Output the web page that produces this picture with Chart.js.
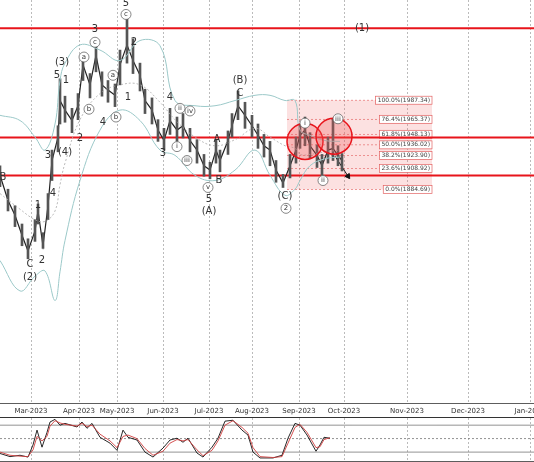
<!DOCTYPE html>
<html>
<head>
<meta charset="utf-8">
<script src="https://cdn.jsdelivr.net/npm/chart.js@4"></script>
<style>
  html, body { margin: 0; padding: 0; overflow: hidden; background: #fff; font-family: "DejaVu Sans", sans-serif; }
  #wrap { position: relative; width: 534px; height: 462px; }
  canvas { position: absolute; left: 0; display: block; }
  #priceChart { top: 0; }
  #oscChart { top: 418px; }
</style>
</head>
<body>
<div id="wrap">
  <canvas id="priceChart" width="534" height="418"></canvas>
  <canvas id="oscChart" width="534" height="44"></canvas>
</div>
<script>
// time axis (bar units) and month ticks
const monthPos = [31, 79, 117, 163, 209, 252, 299, 344, 407, 468, 530];
const monthLabels = ['Mar-2023', 'Apr-2023', 'May-2023', 'Jun-2023', 'Jul-2023', 'Aug-2023',
  'Sep-2023', 'Oct-2023', 'Nov-2023', 'Dec-2023', 'Jan-2024'];

// price samples
const priceT = [0, 8, 15, 22, 28, 35, 38, 43, 48, 52, 58, 60, 65, 72, 78, 83, 90, 96, 102, 108, 115, 120,
  127, 133, 140, 145, 152, 158, 164, 170, 177, 183, 190, 197, 204, 210, 216, 220, 228, 232, 238, 245,
  252, 258, 264, 270, 276, 283, 290, 296, 300, 305, 310, 317, 322, 328, 333, 338, 342];
const closes = [1901, 1872, 1855, 1832, 1814, 1837, 1860, 1820, 1866, 1918, 1945, 1987, 1976, 1964, 1981, 2028,
  2005, 2039, 2005, 1999, 1993, 2028, 2051, 2033, 2016, 1987, 1976, 1953, 1941, 1964, 1953, 1958, 1941, 1930,
  1912, 1907, 1930, 1918, 1941, 1958, 1981, 1970, 1958, 1947, 1935, 1930, 1907, 1892, 1912, 1930, 1947,
  1953, 1935, 1924, 1912, 1930, 1932, 1924, 1918];
const highs = [1912, 1885, 1866, 1845, 1828, 1850, 1868, 1835, 1880, 1930, 1958, 2012, 1992, 1978, 1995, 2040,
  2018, 2052, 2020, 2010, 2006, 2045, 2082, 2058, 2030, 2000, 1990, 1965, 1955, 1978, 1968, 1972, 1955, 1942,
  1925, 1916, 1942, 1930, 1952, 1972, 1998, 1985, 1970, 1960, 1948, 1940, 1918, 1902, 1925, 1945, 1960,
  1968, 1950, 1936, 1925, 1945, 1966, 1935, 1926];
const lows = [1888, 1860, 1842, 1820, 1805, 1825, 1845, 1817, 1850, 1895, 1928, 1960, 1962, 1950, 1965, 2010,
  1990, 2020, 1992, 1985, 1980, 2005, 2030, 2018, 1998, 1972, 1960, 1940, 1930, 1948, 1940, 1944, 1928, 1915,
  1900, 1897, 1915, 1905, 1925, 1945, 1965, 1955, 1945, 1932, 1922, 1912, 1893, 1887, 1898, 1915, 1932,
  1935, 1920, 1910, 1900, 1915, 1918, 1912, 1906];

// bollinger bands
const bandT = [0, 20, 35, 45, 55, 60, 65, 80, 100, 120, 140, 160, 175, 195, 215, 235, 255, 270, 285, 295, 300, 310, 325, 340];
const bandUpper = [1970, 1964, 1945, 1930, 1960, 2010, 2030, 2051, 2045, 2033, 2056, 2050, 1987, 1981, 1981, 1987, 1993, 1993, 1987, 1987, 1953, 1947, 1941, 1940];
const bandLower = [1803, 1768, 1785, 1791, 1757, 1790, 1826, 1895, 1953, 1976, 1964, 1930, 1924, 1901, 1895, 1907, 1930, 1901, 1878, 1885, 1895, 1912, 1920, 1922];
const bandMid = [1880, 1862, 1850, 1848, 1860, 1890, 1915, 1965, 1995, 2005, 2005, 1985, 1965, 1945, 1935, 1942, 1955, 1945, 1935, 1932, 1925, 1925, 1928, 1930];

// horizontal levels and fibonacci box
const redLevels = [2070, 1944.6, 1900.8];
const fibLevels = [1987.34, 1965.37, 1948.13, 1936.02, 1923.90, 1908.92, 1884.69];
const fibNames = ['100.0%(1987.34)', '76.4%(1965.37)', '61.8%(1948.13)', '50.0%(1936.02)',
  '38.2%(1923.90)', '23.6%(1908.92)', '0.0%(1884.69)'];
const fibStart = 287, fibEnd = 432;
const circles = [[305, 1940, 18], [334, 1946, 18]];
const arrowT = [335, 348];
const arrowP = [1923, 1900];

// wave labels: t, price, text, circled
const waveLabels = [
  [3, 1899, 'B', 0], [30, 1798, 'C', 0], [30, 1784, '(2)', 0], [38, 1866, '1', 0], [42, 1803, '2', 0],
  [48, 1924, '3', 0], [53, 1880, '4', 0], [65, 1927, '(4)', 0], [62, 2031, '(3)', 0], [57, 2016, '5', 0],
  [66, 2010, '1', 0], [84, 2037, 'a', 1], [95, 2069, '3', 0], [95, 2054, 'c', 1], [89, 1977, 'b', 1],
  [80, 1943, '2', 0], [103, 1962, '4', 0], [113, 2016, 'a', 1], [116, 1968, 'b', 1], [126, 2099, '5', 0],
  [126, 2086, 'c', 1], [134, 2054, '2', 0], [128, 1991, '1', 0], [170, 1991, '4', 0], [180, 1978, 'ii', 1],
  [190, 1975, 'iv', 1], [163, 1926, '3', 0], [177, 1934, 'i', 1], [187, 1918, 'iii', 1], [217, 1942, 'A', 0],
  [219, 1895, 'B', 0], [208, 1887, 'v', 1], [209, 1873, '5', 0], [209, 1859, '(A)', 0], [240, 2010, '(B)', 0],
  [240, 1995, 'C', 0], [285, 1877, '(C)', 0], [286, 1863, '2', 1], [305, 1961, 'i', 1], [323, 1895, 'ii', 1],
  [338, 1966, 'iii', 1], [362, 2070, '(1)', 0]
];

// stochastic oscillator
const oscT = [0, 10, 20, 28, 33, 37, 42, 47, 50, 55, 60, 65, 77, 82, 87, 92, 100, 110, 117, 123, 128, 137, 145,
  153, 163, 170, 177, 183, 188, 197, 203, 212, 218, 225, 233, 242, 248, 253, 260, 273, 282, 288, 295, 300,
  307, 316, 320, 324, 330];
const oscMain = [17, 10, 13, 9, 36, 69, 31, 64, 87, 93, 80, 84, 76, 87, 73, 84, 53, 40, 24, 69, 53, 47, 20,
  9, 29, 47, 51, 42, 51, 18, 9, 31, 51, 89, 91, 69, 58, 20, 7, 7, 13, 51, 84, 80, 58, 22, 36, 53, 51];
const oscSignal = [20, 13, 11, 10, 25, 55, 45, 55, 78, 90, 85, 82, 78, 84, 77, 80, 60, 45, 30, 55, 58, 50, 28,
  13, 22, 40, 48, 45, 48, 25, 12, 24, 45, 80, 90, 75, 62, 30, 10, 8, 10, 40, 75, 82, 64, 30, 32, 48, 52];

const xy = (ts, vs) => ts.map((t, i) => ({ x: t, y: vs[i] }));
const fontName = '"DejaVu Sans", sans-serif';

const monthAxis = () => ({ type: 'linear', min: 0, max: 534, offset: false, display: false });

// dashed month gridlines drawn from the x scale
const monthGrid = {
  id: 'monthGrid',
  beforeDatasetsDraw(chart) {
    const { ctx, scales: { x }, chartArea } = chart;
    ctx.save();
    ctx.strokeStyle = '#aaa';
    ctx.lineWidth = 0.8;
    ctx.setLineDash([2, 2]);
    monthPos.forEach(t => {
      const px = Math.round(x.getPixelForValue(t)) + 0.5;
      ctx.beginPath(); ctx.moveTo(px, chartArea.top); ctx.lineTo(px, chartArea.bottom); ctx.stroke();
    });
    ctx.setLineDash([]);
    ctx.strokeStyle = '#333';
    ctx.beginPath(); ctx.moveTo(0, chartArea.bottom - 0.5); ctx.lineTo(534, chartArea.bottom - 0.5); ctx.stroke();
    ctx.restore();
  }
};

const overlay = {
  id: 'overlay',
  beforeDatasetsDraw(chart) {
    const { ctx, scales: { x, y }, chartArea } = chart;
    ctx.save();
    // fib box
    const x0 = x.getPixelForValue(fibStart), x1 = x.getPixelForValue(fibEnd);
    const yt = y.getPixelForValue(fibLevels[0]), yb = y.getPixelForValue(fibLevels[fibLevels.length - 1]);
    ctx.fillStyle = 'rgba(240,120,120,0.22)';
    ctx.fillRect(x0, yt, x1 - x0, yb - yt);
    ctx.strokeStyle = 'rgba(220,60,60,0.7)';
    ctx.setLineDash([2, 2]);
    ctx.lineWidth = 0.7;
    fibLevels.forEach(p => {
      const py = y.getPixelForValue(p);
      ctx.beginPath(); ctx.moveTo(x0, py); ctx.lineTo(x1, py); ctx.stroke();
    });
    ctx.setLineDash([]);
    ctx.font = '6px ' + fontName;
    fibNames.forEach((n, i) => {
      const py = y.getPixelForValue(fibLevels[i]);
      const w = ctx.measureText(n).width + 4;
      ctx.fillStyle = '#fff';
      ctx.fillRect(x1 - w, py - 4, w, 8);
      ctx.strokeStyle = 'rgba(220,60,60,0.8)';
      ctx.strokeRect(x1 - w, py - 4, w, 8);
      ctx.fillStyle = '#444';
      ctx.textBaseline = 'middle';
      ctx.fillText(n, x1 - w + 2, py);
    });
    // red levels
    ctx.strokeStyle = '#e8141b';
    ctx.lineWidth = 2;
    redLevels.forEach(p => {
      const py = y.getPixelForValue(p);
      ctx.beginPath(); ctx.moveTo(chartArea.left, py); ctx.lineTo(chartArea.right, py); ctx.stroke();
    });
    ctx.restore();
  },
  afterDatasetsDraw(chart) {
    const { ctx, scales: { x, y }, chartArea } = chart;
    ctx.save();
    circles.forEach(([t, p, r]) => {
      ctx.beginPath();
      ctx.arc(x.getPixelForValue(t), y.getPixelForValue(p), r, 0, Math.PI * 2);
      ctx.fillStyle = 'rgba(240,90,90,0.3)';
      ctx.fill();
      ctx.strokeStyle = '#e8141b';
      ctx.lineWidth = 1.5;
      ctx.stroke();
    });
    ctx.textAlign = 'center';
    ctx.textBaseline = 'middle';
    waveLabels.forEach(([t, p, txt, c]) => {
      const px = x.getPixelForValue(t), py = y.getPixelForValue(p);
      if (c) {
        ctx.font = '7px ' + fontName;
        ctx.beginPath(); ctx.arc(px, py, 5, 0, Math.PI * 2);
        ctx.fillStyle = '#fff'; ctx.fill();
        ctx.strokeStyle = '#555'; ctx.lineWidth = 0.7; ctx.stroke();
      } else {
        ctx.font = '10px ' + fontName;
      }
      ctx.fillStyle = '#333';
      ctx.fillText(txt, px, py);
    });
    // month labels under the axis
    ctx.font = '7px ' + fontName;
    ctx.fillStyle = '#333';
    monthPos.forEach((t, i) => ctx.fillText(monthLabels[i], x.getPixelForValue(t), chartArea.bottom + 7));
    ctx.strokeStyle = '#333';
    ctx.lineWidth = 1;
    ctx.beginPath(); ctx.moveTo(0, chartArea.bottom + 13.5); ctx.lineTo(534, chartArea.bottom + 13.5); ctx.stroke();
    ctx.restore();
  }
};

new Chart(document.getElementById('priceChart'), {
  type: 'bar',
  data: {
    datasets: [
      { type: 'line', data: xy(bandT, bandUpper), borderColor: '#9cc9c9', borderWidth: 1, pointRadius: 0, tension: 0.4 },
      { type: 'line', data: xy(bandT, bandLower), borderColor: '#9cc9c9', borderWidth: 1, pointRadius: 0, tension: 0.4 },
      { type: 'line', data: xy(bandT, bandMid), borderColor: '#aaa', borderWidth: 0.8, borderDash: [2, 2], pointRadius: 0, tension: 0.4 },
      { type: 'bar', data: priceT.map((t, i) => ({ x: t, y: [lows[i], highs[i]] })), backgroundColor: '#555', barThickness: 2, grouped: false },
      { type: 'line', data: xy(priceT, closes), borderColor: '#222', borderWidth: 1.2, pointRadius: 0 },
      { type: 'line', data: xy(arrowT, arrowP), borderColor: '#111', borderWidth: 1,
        pointRadius: [0, 3], pointStyle: 'triangle', pointRotation: 145, pointBackgroundColor: '#111' }
    ]
  },
  options: {
    responsive: false, animation: false, devicePixelRatio: 1,
    layout: { autoPadding: false, padding: { left: 0, right: 0, top: 0, bottom: 14 } },
    plugins: { legend: { display: false }, tooltip: { enabled: false } },
    scales: {
      x: monthAxis(),
      y: { min: 1638, max: 2102.6, display: false }
    }
  },
  plugins: [monthGrid, overlay]
});

const oscLevels = {
  id: 'oscLevels',
  beforeDatasetsDraw(chart) {
    const { ctx, scales: { y }, chartArea } = chart;
    ctx.save();
    [[80, []], [50, [2, 2]], [20, []]].forEach(([v, d]) => {
      ctx.setLineDash(d);
      ctx.strokeStyle = '#777';
      ctx.lineWidth = 0.8;
      const py = y.getPixelForValue(v);
      ctx.beginPath(); ctx.moveTo(chartArea.left, py); ctx.lineTo(chartArea.right, py); ctx.stroke();
    });
    ctx.restore();
  }
};

new Chart(document.getElementById('oscChart'), {
  type: 'line',
  data: {
    datasets: [
      { data: xy(oscT, oscSignal), borderColor: '#d04040', borderWidth: 0.9, pointRadius: 0 },
      { data: xy(oscT, oscMain), borderColor: '#111', borderWidth: 0.9, pointRadius: 0 }
    ]
  },
  options: {
    responsive: false, animation: false, devicePixelRatio: 1,
    layout: { autoPadding: false, padding: 0 },
    plugins: { legend: { display: false }, tooltip: { enabled: false } },
    scales: {
      x: monthAxis(),
      y: { min: -2, max: 96, display: false }
    }
  },
  plugins: [monthGrid, oscLevels]
});
</script>
</body>
</html>
